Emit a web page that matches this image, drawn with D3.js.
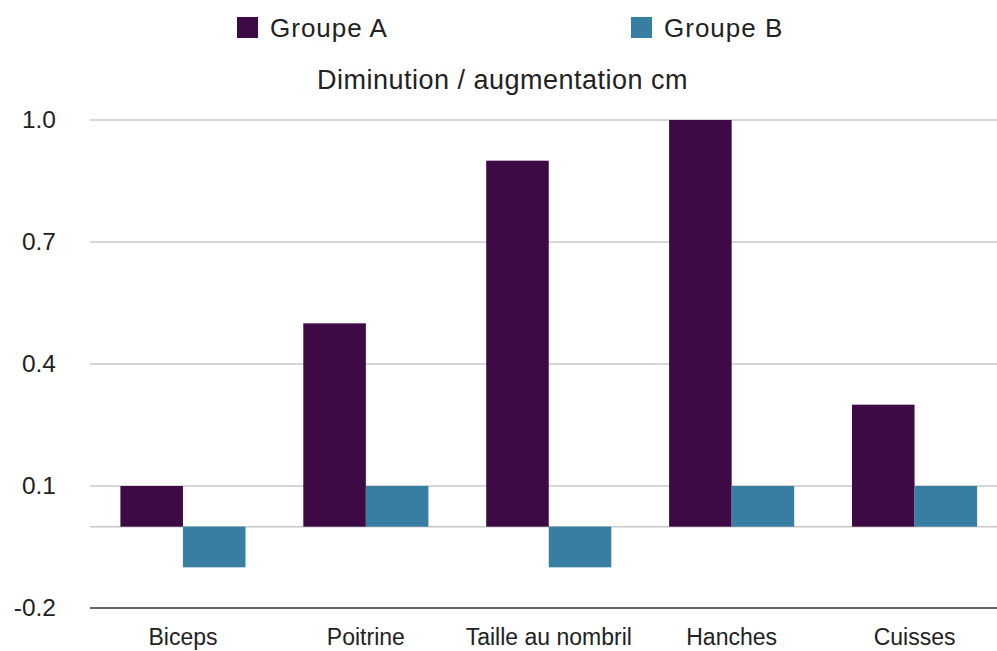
<!DOCTYPE html>
<html><head><meta charset="utf-8">
<script src="https://cdn.jsdelivr.net/npm/d3@7"></script>
<style>html,body{margin:0;padding:0;background:#fff;}svg{display:block;font-family:"Liberation Sans",Arial,sans-serif;}</style>
</head><body>
<script>
const categories = ["Biceps", "Poitrine", "Taille au nombril", "Hanches", "Cuisses"];
const seriesNames = ["Groupe A", "Groupe B"];
const groupA = [0.1, 0.5, 0.9, 1.0, 0.3];
const groupB = [-0.1, 0.1, -0.1, 0.1, 0.1];
const yTicks = [-0.2, 0.1, 0.4, 0.7, 1.0];
const title = "Diminution / augmentation cm";
const colors = ["#3d0a45", "#377ea2"];

const W = 997, H = 651;
const svg = d3.select("body").append("svg").attr("width", W).attr("height", H);

const x0 = d3.scaleBand().domain(categories).range([91.5, 1006]).paddingInner(0.316).paddingOuter(0.158);
const x1 = d3.scaleBand().domain(seriesNames).range([0, x0.bandwidth()]);
const y = d3.scaleLinear().domain([-0.2, 1.0]).range([608, 120]);

// gridlines
const gridVals = yTicks.concat([0]).filter(v => v !== -0.2);
svg.append("g").selectAll("line").data(gridVals).join("line")
  .attr("x1", 90).attr("x2", W).attr("y1", d => y(d)).attr("y2", d => y(d))
  .attr("stroke", "#c8c8c8").attr("stroke-width", 1.5);

// y axis labels
const yAxis = d3.axisLeft(y).tickValues(yTicks).tickFormat(d => d.toFixed(1)).tickSize(0).tickPadding(0);
const ya = svg.append("g").attr("transform", "translate(56,0)").call(yAxis);
ya.select(".domain").remove();
ya.selectAll("text").attr("font-size", 24.5).attr("fill", "#222").attr("font-family", "Liberation Sans, Arial, sans-serif");

// bars
const data = categories.map((c, i) => ({c, vals: [groupA[i], groupB[i]]}));
const g = svg.append("g").selectAll("g").data(data).join("g")
  .attr("transform", d => `translate(${x0(d.c)},0)`);
g.selectAll("rect").data(d => d.vals.map((v, k) => ({v, k}))).join("rect")
  .attr("x", d => x1(seriesNames[d.k]))
  .attr("width", x1.bandwidth())
  .attr("y", d => Math.min(y(d.v), y(0)))
  .attr("height", d => Math.abs(y(d.v) - y(0)))
  .attr("fill", d => colors[d.k]);

// baseline
svg.append("line").attr("x1", 90).attr("x2", W).attr("y1", y(-0.2)).attr("y2", y(-0.2))
  .attr("stroke", "#333").attr("stroke-width", 1.5);

// x axis labels
const xAxis = d3.axisBottom(x0).tickSize(0).tickPadding(0);
const xa = svg.append("g").attr("transform", "translate(0,629)").call(xAxis);
xa.select(".domain").remove();
xa.selectAll("text").attr("font-size", 23).attr("fill", "#222").attr("font-family", "Liberation Sans, Arial, sans-serif");

// title
svg.append("text").attr("x", 502.5).attr("y", 89).attr("text-anchor", "middle")
  .attr("font-size", 27).attr("letter-spacing", 0.5).attr("fill", "#222").text(title);

// legend
const legX = [237, 631];
const leg = svg.append("g").selectAll("g").data(seriesNames).join("g")
  .attr("transform", (d, i) => `translate(${legX[i]},17)`);
leg.append("rect").attr("width", 21).attr("height", 21).attr("fill", (d, i) => colors[i]);
leg.append("text").attr("x", 33).attr("y", 20).attr("font-size", 26).attr("letter-spacing", 1).attr("fill", "#222").text(d => d);
</script>
</body></html>
